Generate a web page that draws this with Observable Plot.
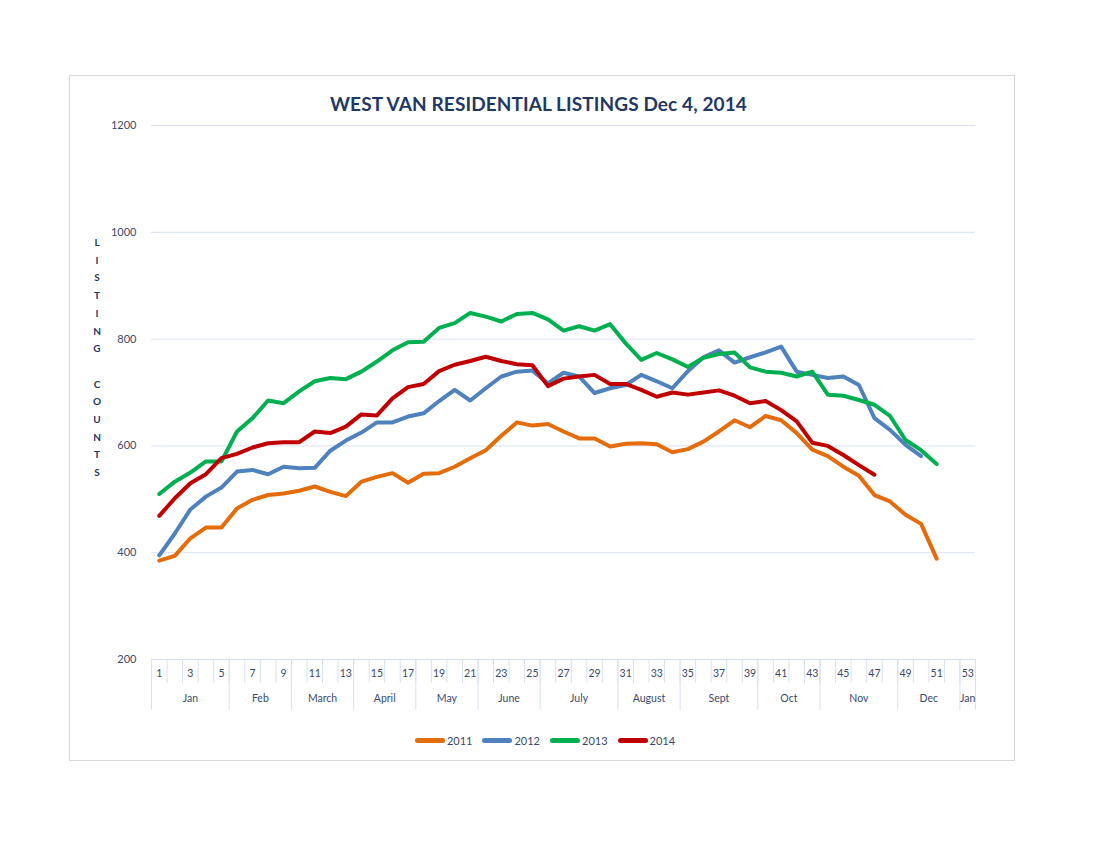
<!DOCTYPE html>
<html>
<head>
<meta charset="utf-8">
<script src="https://cdn.jsdelivr.net/npm/d3@7"></script>
<script src="https://cdn.jsdelivr.net/npm/@observablehq/plot@0.6"></script>
<style>
  html, body { margin: 0; padding: 0; background: #fff; }
  #wrap { position: relative; width: 1100px; height: 850px; font-family: Lato, "Open Sans", sans-serif; }
  #frame { position: absolute; left: 69px; top: 75px; width: 946px; height: 686px; border: 1px solid #d9d9d9; box-sizing: border-box; }
  #title { position: absolute; top: 92px; left: 0; width: 1077px; text-align: center; font: bold 19px Lato, sans-serif; color: #1f3864; letter-spacing: 0.1px; }
  #ytitle { position: absolute; left: 87px; top: 234px; width: 20px; text-align: center; font: bold 10px Lato, sans-serif; color: #1f3864; line-height: 17.7px; }
  #chart { position: absolute; left: 0; top: 115px; }
  #legend { position: absolute; top: 734px; left: 0; width: 1090px; display: flex; justify-content: center; gap: 10px; font: 11px Lato, sans-serif; color: #3b4a6b; }
  .item { display: flex; align-items: center; gap: 2px; }
  .sw { width: 30px; height: 5px; border-radius: 3px; display: inline-block; }
</style>
</head>
<body>
<div id="wrap">
  <div id="frame"></div>
  <div id="title"></div>
  <div id="ytitle"></div>
  <div id="chart"></div>
  <div id="legend"></div>
</div>
<script>
const titleText = "WEST VAN RESIDENTIAL LISTINGS Dec 4, 2014";
const yTitle = "LISTING COUNTS";
const years = ["2011", "2012", "2013", "2014"];
const colors = ["#e46c0a", "#4f81bd", "#00b050", "#c00000"];
const yTicks = [200, 400, 600, 800, 1000, 1200];
const weekLabels = [1, 3, 5, 7, 9, 11, 13, 15, 17, 19, 21, 23, 25, 27, 29, 31, 33, 35, 37, 39, 41, 43, 45, 47, 49, 51, 53];
const monthNames = ["Jan", "Feb", "March", "April", "May", "June", "July", "August", "Sept", "Oct", "Nov", "Dec", "Jan"];
const monthFirstWeek = [1, 6, 10, 14, 18, 22, 26, 31, 35, 40, 44, 49, 53];
const monthLastWeek = [5, 9, 13, 17, 21, 25, 30, 34, 39, 43, 48, 52, 53];

const listings2011 = [385, 394, 427, 447, 447, 483, 499, 508, 511, 516, 524, 514, 506, 533, 542, 549, 531, 548, 549, 561,
  577, 592, 619, 644, 638, 641, 627, 614, 614, 599, 604, 605, 603, 588, 594, 608, 627, 648, 635, 656,
  648, 624, 593, 581, 561, 544, 508, 496, 471, 454, 389];
const listings2012 = [395, 436, 481, 505, 522, 552, 555, 547, 561, 558, 559, 591, 610, 625, 644, 644, 655, 661, 684, 705,
  685, 708, 730, 739, 741, 717, 737, 730, 699, 708, 714, 733, 721, 708, 740, 766, 779, 756, 766, 775,
  786, 739, 733, 727, 730, 714, 652, 630, 602, 581];
const listings2013 = [510, 533, 550, 571, 571, 627, 652, 685, 680, 702, 721, 727, 725, 739, 758, 779, 794, 795, 821, 830,
  849, 842, 833, 847, 849, 837, 816, 824, 816, 828, 792, 761, 774, 762, 748, 765, 772, 775, 747, 739,
  737, 730, 739, 696, 694, 686, 677, 656, 611, 592, 566];
const listings2014 = [469, 502, 530, 547, 577, 585, 597, 605, 607, 607, 627, 624, 636, 659, 657, 689, 710, 716, 740, 752,
  759, 767, 759, 753, 751, 712, 726, 730, 733, 716, 716, 705, 692, 700, 696, 700, 704, 694, 680, 684,
  667, 646, 606, 600, 583, 564, 546];

const seriesValues = [listings2011, listings2012, listings2013, listings2014];
const rows = [];
years.forEach((yr, i) => seriesValues[i].forEach((v, k) => rows.push({year: yr, week: k + 1, value: v})));

const weekBoundaries = d3.range(0, 54).map(w => w + 0.5);
const monthBoundaries = [monthFirstWeek[0] - 0.5, ...monthLastWeek.map(w => w + 0.5)];
const monthCenters = monthFirstWeek.map((f, i) => (f + monthLastWeek[i]) / 2);

const grid = "#d9e1f2";
const ink = "#3b4a6b";

const chart = Plot.plot({
  width: 1100,
  height: 610,
  marginLeft: 151,
  marginRight: 125,
  marginTop: 10,
  marginBottom: 66,
  style: {fontFamily: "Lato, sans-serif", background: "transparent", overflow: "visible"},
  x: {type: "linear", domain: [0.5, 53.5], axis: null},
  y: {domain: [200, 1200], axis: null},
  color: {domain: years, range: colors},
  marks: [
    Plot.ruleY(yTicks, {stroke: grid, strokeWidth: 1}),
    Plot.axisY(yTicks, {tickSize: 0, tickPadding: 15, fontSize: 11, color: ink, label: null, textAnchor: "end",
      tickFormat: (d) => String(d)}),
    Plot.axisX(weekBoundaries, {tickSize: 24, tickFormat: () => "", stroke: grid, label: null}),
    Plot.axisX(monthBoundaries, {tickSize: 51, tickFormat: () => "", stroke: grid, label: null}),
    Plot.axisX(weekLabels, {tickSize: 0, tickPadding: 10, fontSize: 10.5, color: ink, label: null,
      tickFormat: (d) => String(d)}),
    Plot.axisX(monthCenters, {tickSize: 0, tickPadding: 35, fontSize: 10.5, color: ink, label: null,
      tickFormat: (d) => monthNames[monthCenters.indexOf(d)]}),
    Plot.line(rows, {x: "week", y: "value", z: "year", stroke: "year", strokeWidth: 4,
      strokeLinejoin: "round", strokeLinecap: "round"})
  ]
});
document.getElementById("chart").appendChild(chart);

document.getElementById("title").textContent = titleText;
document.getElementById("ytitle").innerHTML = yTitle.split("").map(c => `<div>${c === " " ? "&nbsp;" : c}</div>`).join("");
document.getElementById("legend").innerHTML = years.map((y, i) =>
  `<span class="item"><span class="sw" style="background:${colors[i]}"></span>${y}</span>`).join("");
</script>
</body>
</html>
